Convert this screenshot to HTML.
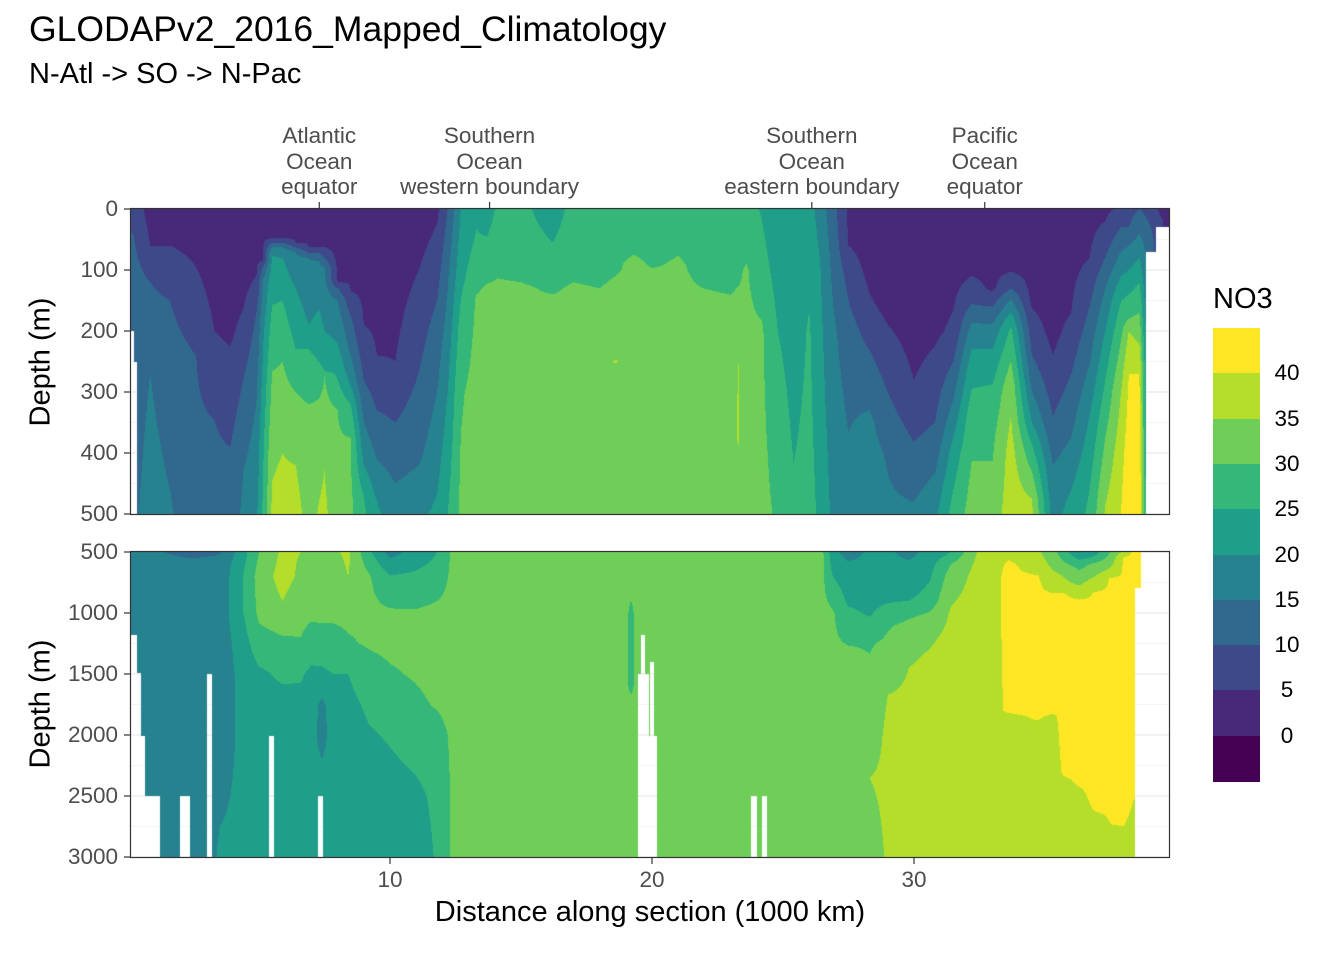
<!DOCTYPE html>
<html><head><meta charset="utf-8">
<style>
body{margin:0;background:#fff;}
#root{position:relative;width:1344px;height:960px;overflow:hidden;font-family:"Liberation Sans",sans-serif;background:#fff;}
.t{position:absolute;white-space:nowrap;}
.tick{color:#4D4D4D;font-size:22.5px;}
canvas{position:absolute;}
</style></head>
<body>
<div id="root">
<div class="t" style="left:29px;top:9px;font-size:35.5px;color:#000;">GLODAPv2_2016_Mapped_Climatology</div>
<div class="t" style="left:29px;top:58px;font-size:29px;color:#000;">N-Atl -&gt; SO -&gt; N-Pac</div>
<svg id="axes" width="1344" height="960" style="position:absolute;left:0;top:0"></svg>
<canvas id="cTop" width="1038" height="305" style="left:131px;top:209px"></canvas>
<canvas id="cBot" width="1038" height="305" style="left:131px;top:552px"></canvas>
<svg id="frames" width="1344" height="960" style="position:absolute;left:0;top:0"></svg>
<div class="t" style="left:41px;top:362px;font-size:29px;transform:translate(-50%,-50%) rotate(-90deg);">Depth (m)</div>
<div class="t" style="left:41px;top:704px;font-size:29px;transform:translate(-50%,-50%) rotate(-90deg);">Depth (m)</div>
<div class="t" style="left:650px;top:896px;font-size:29px;transform:translateX(-50%);">Distance along section (1000 km)</div>
<div class="t" style="left:1213px;top:283px;font-size:29px;">NO3</div>
<div id="legend"></div>
<div id="labels"></div>
</div>
<script>
// ---- data ----
const binEdges = [0,5,10,15,20,25,30,35,40];
const binColors = ['#440154','#482878','#3E4989','#31688E','#26828E','#1F9E89','#35B779','#6ECE58','#B5DE2B','#FDE725'];
const legendLabels = ['40','35','30','25','20','15','10','5','0'];
const xTicks = [10,20,30];
const upperTicks = [0,100,200,300,400,500];
const lowerTicks = [500,1000,1500,2000,2500,3000];
const regionNames = [['Atlantic','Ocean','equator'],['Southern','Ocean','western boundary'],['Southern','Ocean','eastern boundary'],['Pacific','Ocean','equator']];
const regionDist = [7.3,13.8,26.1,32.7];

// upper panel profiles: distance (1000 km), depths (m), NO3 values
const upperDist = [0.2,0.85,1.6,2.6,3.3,3.9,4.4,4.9,5.15,5.5,5.9,6.4,6.9,7.3,7.5,8.0,8.5,9.0,9.5,10.2,11.1,11.8,12.2,12.7,13.3,13.7,14.1,15,16.2,17,18,18.6,19.3,20,21,22,23,23.3,23.6,24.2,24.8,25.4,26.0,26.4,26.9,27.5,28.3,29,30,30.8,31.5,32.2,33,33.7,34.5,35.3,36,36.7,37.3,37.9,38.2,38.6,39.0,39.5,39.8];
const upperDepth = [
[0,40,100,300,500],[0,60,120,270,500],[0,60,150,300,500],[0,95,240,500],[0,150,200,345,500],[0,200,225,390,500],[0,150,165,280,430,500],
[0,100,130,170,280,400,500],[0,85,95,115,200,380,460,500],[0,48,55,62,75,140,157,266,420,500],[0,48,55,62,80,150,250,400,500],
[0,55,63,70,130,230,300,420,500],[0,62,72,80,190,230,320,500],[0,62,72,85,165,250,310,430,500],[0,62,80,95,200,266,275,430,500],
[0,120,130,150,220,280,330,500],[0,135,175,240,290,320,375,500],[0,190,280,350,420,470,500],[0,240,330,410,480,500],[0,250,350,450,500],
[0,100,250,400,500],[0,50,100,200,300,400,500],[0,100,300,500],[0,100,200,300,500],[0,50,100,150,300,500],[0,30,100,130,500],[0,100,140,500],[0,100,130,500],
[0,55,100,150,500],[0,100,130,500],[0,120,150,500],[0,100,130,230,250,270,500],[0,60,90,500],[0,90,110,500],[0,90,500],[0,125,160,500],[0,135,170,500],
[0,120,160,240,260,380,420,500],[0,80,100,500],[0,100,150,200,500],[0,200,300,400,500],[0,250,500],[0,100,200,500],[0,100,300,500],[0,100,200,300,500],
[0,60,100,200,300,500],[0,100,150,250,350,500],[0,150,200,300,400,500],[0,100,200,300,400,500],[0,100,200,250,350,450,500],[0,100,200,250,300,350,400,500],
[0,100,150,180,200,250,340,450,500],[0,130,160,200,250,300,370,500],[0,100,130,150,165,180,200,290,400,500],[0,150,170,240,300,350,385,430,475,500],
[0,100,200,240,340,420,500],[0,170,270,375,460,500],[0,80,160,255,340,460,500],[0,20,80,130,200,280,375,485,500],[0,30,70,110,150,215,300,400,500],
[0,30,60,100,140,180,200,270,500],[0,40,80,120,170,220,270,500],[0,50,500],[0,20,500],[0,20,500]];
const upperNO3 = [
[8,10,12,13,14],[3,5,10,15,17],[3,5,10,13,15.5],[2,5,10,12],[1,4,5,10,12],[1,4,5,10,12],[2,4.5,5,10,15,16],
[2,4.5,6,10,14,17,19],[3,5,10,15,19,24,25,26],[3,5,10,15,20,24,25,30,34.5,36],[3,5,10,15,20,25,30,35,37],
[3,5,10,15,20,25,30,35,37],[3,5,10,15,20,25,30,33],[3,5,10,15,20,25,30,34,35.5],[2,5,10,15,20,25,30,35,36],
[1,5,10,15,20,25,30,32],[2,5,10,15,20,25,30,31],[2,5,10,15,20,25,26],[1.5,5,10,15,20,21],[1,5,10,15,17],
[2,5,9.5,14,19],[4,6,8,12,15,18,21],[10,14,20,25],[20,23,27,29.5,31],[24,25.5,28,30.5,31.5,32],[22,24,28.5,30.5,32],[26,29.5,31,32],[26.5,29,30.5,32],
[22,25,28,30.5,32],[27,29,30.5,32],[27,29.5,31,32],[27,29.5,31,32.5,35.5,32.5,32],[27,29,31,32],[27,29.5,31,32],[27,30.5,32],[26,29.8,31,32],[27,29.8,31,32],
[27,29.8,31,34,35.5,35.5,33,32],[27,29.5,30.5,31.5],[24.5,27,29,30.5,31],[21,25,27,28.5,29.5],[21,23,26],[22,24,25.5,27],[18,20.5,22,24],[12,14,16,17,19],
[4,5,8,12,14,17],[2,3.5,5.5,11,16,18],[1,3,5.5,10,14.5,16],[1,2,3,5.5,11,16],[1,2,4,6,10,16,19],[2,3,6,10,14,18,22,27],
[2,4,9,14,17,22,28,31,32],[2,4,10,17,22,26,29,32],[2,4.5,10,15.5,19,22.5,26,33.5,37,38],[2,4,5.5,10,15,20,25,30,35,36],
[1,2,3.5,5,10,15,18],[2,5,10,15,20,22],[3,5,10,15,20,25,26],[4,5,10,15,20,25,30,35,35.5],[6,10,15,20,25,30,35,38,40],
[8,10,15,20,25,30,35,40,45],[10,15,20,25,30,35,40,45],[8,12,12],[3,5,5],[2,4,4]];

// lower panel profiles
const lowerDist = [0.3,2.5,3.5,4.3,5.0,5.9,6.6,7.0,7.4,7.8,8.4,9.2,10,11,11.8,12.3,12.8,19.0,19.2,19.4,26.5,26.9,27.5,28.3,29,29.8,30.6,31.4,32.5,33.0,33.6,34.7,35.3,35.7,36.3,36.9,37.5,38.0,38.4,39.7];
const lowerDepth = [
[500,3000],[500,580,700,3000],[500,600,1500,1750,2000,2500,3000],[500,700,1000,1250,1500,2000,3000],[500,700,1000,1250,1500,2000,3000],
[500,700,900,1000,1250,1500,1750,2000,3000],[500,700,900,1000,1200,1400,1500,2000,3000],[500,700,1000,1250,1500,1750,3000],
[500,700,1000,1250,1500,1750,2000,2200,2500,3000],[500,700,1000,1250,1500,1750,3000],[500,700,850,1000,1250,1500,2000,3000],
[500,700,900,1000,1250,1500,1750,2000,2500,3000],[500,550,690,960,1250,1500,1750,2000,2500,3000],[500,650,900,1000,1250,1500,1750,2000,2250,2500,3000],
[500,700,900,1000,1500,1750,2000,2500,3000],[500,1000,1500,1750,2000,2500,3000],[500,3000],[500,3000],[500,900,1000,1600,1700,1800,3000],[500,3000],[500,3000],
[500,700,900,1000,1500,3000],[500,600,900,1000,1200,1300,1500,3000],[500,700,1000,1150,1250,1500,2000,2350,3000],[500,700,900,1000,1100,1200,1500,1670,2000,3000],
[500,600,800,900,1000,1100,1300,1450,2000,3000],[500,700,900,990,1200,1290,1500,3000],[500,530,600,700,900,1000,1500,3000],[500,700,1000,3000],
[500,700,1000,2500,3000],[500,600,700,1800,1850,2000,3000],[500,650,700,1000,1800,1900,2000,3000],[500,600,700,800,850,1000,1800,1850,2000,3000],
[500,550,600,650,750,850,1000,2000,2300,2400,3000],[500,550,600,700,800,850,900,2300,2400,2500,3000],[500,550,600,700,750,840,2500,2600,2700,3000],
[500,580,650,720,2600,2650,3000],[500,550,2500,2700,3000],[500,2300,2400,2700,3000],[500,2300,2400,2700,3000]];
const lowerNO3 = [
[16,16],[14,15.5,16.5,16.5],[14.5,16.5,17.5,18,18.5,19.5,20.5],[22,24,24,22,21,20.5,20.5],[30,32,31,28,24,22,22],
[36,37,35,33,29,26,23,22,22],[35,34,32,31.5,30,27,25.5,22,22],[33,32,31,27.5,24,22,22],
[33,32,31,28,24,19,18,20,22,22],[34,32,31,28,25,22,22],[36,35,33,31,29.5,25,22,21],
[26,30.5,31,30.8,30.5,28,26,24.5,22,21],[18,20,25,30,31,29.5,27,25.5,23,21],[22,25,29,30.5,31,30.5,29,27,25.5,24,22.5],
[25,27,30,31,31.5,30.5,28,26,25.5],[30,31.5,32,31.5,30.5,30,30],[31,31],[31,31],[31,30,29,29,30.5,31,31],[31,31],[31,31],
[22,25,29,30.5,31,31],[17,21,24,26,29,30.5,31,31],[21,22,24.5,27,29.5,31,32.5,35,33],[21,22,24.5,27,29.5,30.5,33.5,35,36,35.5],
[18,21,23,25,29,31,33.5,35,36.5,36],[22,24.5,27,30,34,35,37,38],[25,26,30,32,34.5,35.5,38,38],[36,37,37.5,38],
[36.5,37.5,38,38,37],[38,41,42,41,38.5,38,37],[36,38,40.5,42,42,39.5,38,37],[32,34,36,38.5,40.5,42,41,39,38,37],
[27,29,31,34,36,40.5,42,41.5,40.5,39,37],[21,24,28,32,36,38,40.5,41,40.3,39,37],[23,26,31,35,37,40.5,41,40.3,39,38],
[30,33,36,40.5,40.8,40.3,39],[36,40.5,41,40.2,39],[41.5,41.5,40.3,39.5,39],[41.5,41.5,40.3,39.5,39]];

// missing-data (NA) rectangles: [dist start, dist end, depth from]
const upperNA = [[0,0.23,200],[0,0.34,250],[38.85,39.8,70],[39.24,39.8,30]];
const lowerNA = [[0,0.34,1180],[0,0.5,1490],[0,0.65,2010],[0,1.22,2500],[1.98,2.37,2500],[3.02,3.21,1500],[5.38,5.57,2010],[7.25,7.44,2500],
[19.47,20.19,2010],[19.58,19.73,1180],[19.92,20.08,1400],[19.47,19.89,1500],[23.78,24.0,2500],[24.2,24.39,2500],[38.44,39.8,795],[38.66,39.8,500]];

// ---- scales ----
const X0 = 128, XS = 26.2;
const xPx = d => X0 + d*XS;
const panelL = 131, panelR = 1169, panelW = 1038, panelH = 305;
const upperTop = 209, lowerTop = 552;
const upperY = m => upperTop + m/500*panelH;
const lowerY = m => lowerTop + (m-500)/2500*panelH;

function hex(c){return [parseInt(c.slice(1,3),16),parseInt(c.slice(3,5),16),parseInt(c.slice(5,7),16)];}
const rgb = binColors.map(hex);
function binOf(v){let i=0;while(i<binEdges.length && v>=binEdges[i]) i++;return i;}
function interpProfile(ds,vs,m){
  if(m<=ds[0]) return vs[0];
  for(let i=1;i<ds.length;i++){ if(m<=ds[i]){const t=(m-ds[i-1])/(ds[i]-ds[i-1]);return vs[i-1]+t*(vs[i]-vs[i-1]);} }
  return vs[vs.length-1];
}
function renderPanel(canvasId, dist, depths, vals, d0, d1, naList){
  const cv=document.getElementById(canvasId), ctx=cv.getContext('2d');
  const img=ctx.createImageData(panelW,panelH);
  const cols = dist.map((d,k)=>{const a=new Float32Array(panelH);for(let py=0;py<panelH;py++){const m=d0+(py+0.5)/panelH*(d1-d0);a[py]=interpProfile(depths[k],vals[k],m);}return a;});
  for(let px=0;px<panelW;px++){
    const d=(panelL+px+0.5-X0)/XS;
    let j=1; while(j<dist.length-1 && dist[j]<d) j++;
    let t=(d-dist[j-1])/(dist[j]-dist[j-1]); t=Math.max(0,Math.min(1,t));
    const A=cols[j-1],B=cols[j];
    for(let py=0;py<panelH;py++){
      const v=A[py]+t*(B[py]-A[py]);
      const c=rgb[binOf(v)];const o=(py*panelW+px)*4;
      img.data[o]=c[0];img.data[o+1]=c[1];img.data[o+2]=c[2];img.data[o+3]=255;
    }
  }
  ctx.putImageData(img,0,0);
  naList.forEach(r=>{
    const xa=xPx(r[0])-panelL, xb=xPx(r[1])-panelL;
    const ya=(r[2]-d0)/(d1-d0)*panelH;
    ctx.clearRect(Math.max(0,xa),ya,xb-Math.max(0,xa),panelH-ya);
  });
}
renderPanel('cTop',upperDist,upperDepth,upperNO3,0,500,upperNA);
renderPanel('cBot',lowerDist,lowerDepth,lowerNO3,500,3000,lowerNA);

// ---- axes ----
const NS='http://www.w3.org/2000/svg';
const ax=document.getElementById('axes'), fr=document.getElementById('frames');
function line(par,x1,y1,x2,y2,stroke,w){const l=document.createElementNS(NS,'line');l.setAttribute('x1',x1);l.setAttribute('y1',y1);l.setAttribute('x2',x2);l.setAttribute('y2',y2);l.setAttribute('stroke',stroke);l.setAttribute('stroke-width',w);par.appendChild(l);return l;}
for(let m=0;m<=500;m+=50){const g=line(ax,panelL,upperY(m),panelR,upperY(m),'#EBEBEB',m%100?0.6:1.2);

}
for(let m=500;m<=3000;m+=250){const g=line(ax,panelL,lowerY(m),panelR,lowerY(m),'#EBEBEB',m%500?0.6:1.2);

}
[[upperTop],[lowerTop]].forEach(p=>{const r=document.createElementNS(NS,'rect');r.setAttribute('x',panelL-0.5);r.setAttribute('y',p[0]-0.5);r.setAttribute('width',panelW+1);r.setAttribute('height',panelH+1);r.setAttribute('fill','none');r.setAttribute('stroke','#333333');r.setAttribute('stroke-width',1.2);


fr.appendChild(r);});
const labels=document.getElementById('labels');
function addLabel(txt,name,css){const e=document.createElement('div');e.className='t tick';e.textContent=txt;e.style.cssText=css;


labels.appendChild(e);return e;}
upperTicks.forEach(m=>{const y=upperY(m);line(fr,124,y,131,y,'#333333',1.2);addLabel(String(m),'upper-y-tick-label','left:28px;width:90px;text-align:right;top:'+(y-13)+'px;');});
lowerTicks.forEach(m=>{const y=lowerY(m);line(fr,124,y,131,y,'#333333',1.2);addLabel(String(m),'lower-y-tick-label','left:28px;width:90px;text-align:right;top:'+(y-13)+'px;');});
xTicks.forEach(d=>{const x=xPx(d);line(fr,x,858,x,864,'#333333',1.2);addLabel(String(d),'x-tick-label','left:'+(x-30)+'px;width:60px;text-align:center;top:867px;');});
regionDist.forEach((d,i)=>{const x=xPx(d);line(fr,x,202,x,209,'#333333',1.2);
  regionNames[i].forEach((s,k)=>addLabel(s,'region-label','left:'+(x-130)+'px;width:260px;text-align:center;top:'+(123+k*25.5)+'px;'));});
const lg=document.getElementById('legend');
const legTop=328, legH=45.3;
for(let i=0;i<binColors.length;i++){const b=document.createElement('div');


b.style.cssText='position:absolute;left:1213px;width:47px;top:'+(legTop+i*legH)+'px;height:'+(legH+0.6)+'px;background:'+binColors[binColors.length-1-i]+';';lg.appendChild(b);}
legendLabels.forEach((s,i)=>{const e=document.createElement('div');e.className='t';e.textContent=s;


e.style.cssText='left:1266px;width:42px;text-align:center;font-size:22.5px;color:#000;top:'+(legTop+(i+1)*legH-13)+'px;';lg.appendChild(e);});
</script>
</body></html>
